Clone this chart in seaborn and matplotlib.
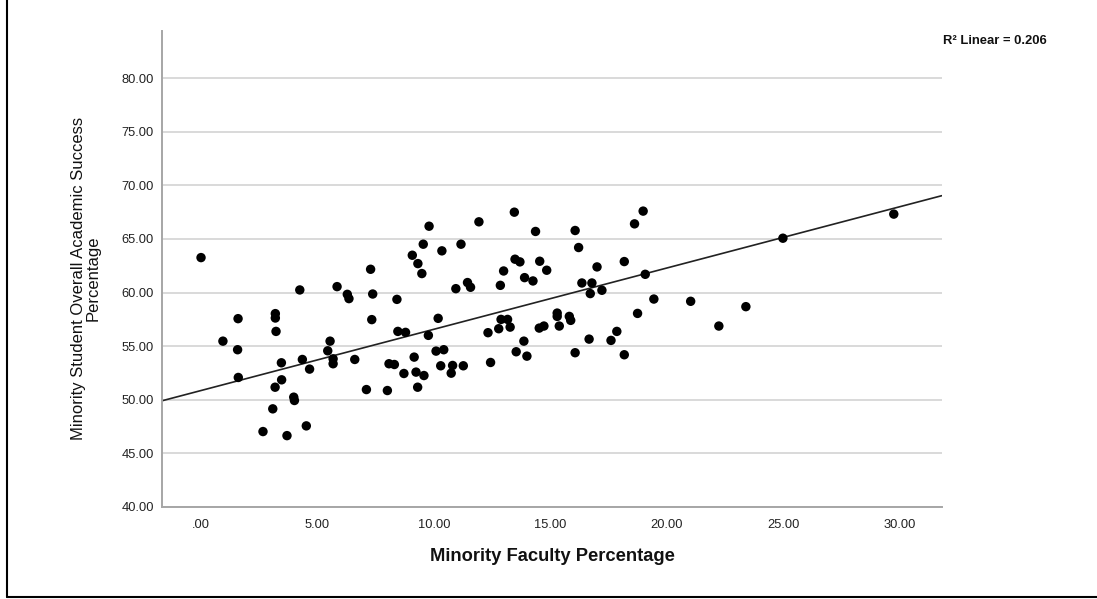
import matplotlib
matplotlib.use("Agg")
import matplotlib.pyplot as plt
from matplotlib.lines import Line2D
from matplotlib.ticker import FuncFormatter
import seaborn as sns
import pandas as pd
import numpy as np

# Data
faculty_pct = [
    0.00, 0.94, 1.59, 1.57, 1.60, 3.19, 3.19, 3.22, 3.45, 3.46,
    3.18, 3.08, 2.66, 3.69, 3.98, 4.01, 4.52, 4.24, 4.35, 4.66,
    5.84, 6.28, 6.35, 5.54, 5.44, 5.67, 5.67, 6.60, 7.28, 7.37,
    7.33, 7.10, 8.00, 8.41, 8.45, 8.78, 8.07, 8.30, 8.71, 9.07,
    9.31, 9.48, 9.15, 9.23, 9.30, 9.79, 9.54, 10.34, 11.16, 11.93,
    13.45, 14.36, 16.06, 16.21, 18.61, 18.98, 10.94, 11.44, 11.57, 12.85,
    12.99, 13.48, 13.69, 13.89, 14.25, 14.54, 14.84, 16.35, 16.78, 16.71,
    17.21, 17.00, 18.17, 19.07, 19.44, 18.74, 10.18, 9.76, 12.32, 12.78,
    12.88, 13.16, 13.27, 14.52, 14.72, 15.29, 15.29, 15.81, 15.87, 15.38,
    13.86, 13.53, 13.99, 16.06, 16.66, 17.60, 17.85, 18.17, 12.43, 10.09,
    10.42, 10.29, 10.80, 10.74, 11.26, 9.57, 21.02, 22.23, 23.39, 24.98,
    29.74,
]
success_pct = [
    63.26, 55.46, 57.56, 54.66, 52.07, 58.03, 57.62, 56.37, 53.44, 51.85,
    51.16, 49.14, 47.02, 46.64, 50.23, 49.92, 47.55, 60.24, 53.75, 52.85,
    60.55, 59.83, 59.43, 55.46, 54.56, 53.81, 53.35, 53.75, 62.17, 59.86,
    57.47, 50.94, 50.85, 59.36, 56.37, 56.28, 53.35, 53.28, 52.44, 63.48,
    62.70, 61.77, 53.97, 52.57, 51.16, 66.19, 64.51, 63.89, 64.51, 66.60,
    67.50, 65.70, 65.79, 64.20, 66.41, 67.60, 60.36, 60.93, 60.49, 60.67,
    62.01, 63.11, 62.86, 61.39, 61.08, 62.92, 62.08, 60.89, 60.89, 59.90,
    60.21, 62.39, 62.89, 61.70, 59.39, 58.05, 57.59, 56.00, 56.25, 56.62,
    57.49, 57.49, 56.77, 56.68, 56.87, 58.08, 57.77, 57.77, 57.40, 56.87,
    55.46, 54.47, 54.06, 54.38, 55.65, 55.53, 56.37, 54.19, 53.47, 54.53,
    54.66, 53.16, 53.19, 52.47, 53.16, 52.25, 59.18, 56.87, 58.68, 65.07,
    67.32,
]
# Linear fit line (R^2 = 0.206)
fit_intercept = 50.85
fit_slope = 0.572

x_ticks = [0, 5, 10, 15, 20, 25, 30]
y_ticks = [40, 45, 50, 55, 60, 65, 70, 75, 80]
x_label = "Minority Faculty Percentage"
y_label = "Minority Student Overall Academic Success\nPercentage"
r2_label = "R\u00b2 Linear = 0.206"

df = pd.DataFrame({"faculty": faculty_pct, "success": success_pct})

sns.set_style("white")
plt.rcParams["font.family"] = ["Liberation Sans", "DejaVu Sans"]

fig = plt.figure(figsize=(10.97, 5.99), dpi=100)
ax = fig.add_axes([0.148, 0.154, 0.7105, 0.794])

xlim = (-1.66, 31.8)
ylim = (40, 84.4)

sns.scatterplot(data=df, x="faculty", y="success", ax=ax, s=46,
                color="black", edgecolor="none", alpha=1, zorder=3)

fit_x = np.array(xlim)
fit_df = pd.DataFrame({"x": fit_x, "y": fit_intercept + fit_slope * fit_x})
sns.lineplot(data=fit_df, x="x", y="y", ax=ax, color="#222222", lw=1.2, zorder=2)

ax.set_xlim(*xlim)
ax.set_ylim(*ylim)
ax.set_xticks(x_ticks)
ax.set_yticks(y_ticks)

def fmt(v, pos):
    s = f"{v:.2f}"
    if s.startswith("0."):
        s = s[1:]
    return s

ax.xaxis.set_major_formatter(FuncFormatter(fmt))
ax.yaxis.set_major_formatter(FuncFormatter(fmt))
ax.tick_params(axis="both", length=0, labelsize=9.3, colors="#222222")
ax.tick_params(axis="x", pad=9)
ax.tick_params(axis="y", pad=6)

ax.yaxis.grid(True, color="#d9d9d9", lw=1.4, zorder=0)
ax.xaxis.grid(False)
ax.set_axisbelow(True)
for side in ["top", "right"]:
    ax.spines[side].set_visible(False)
for side in ["left", "bottom"]:
    ax.spines[side].set_color("#a6a6a6")
    ax.spines[side].set_linewidth(1.4)

ax.set_xlabel(x_label, fontsize=13.2, fontweight="bold", color="#111111", labelpad=12)
ax.set_ylabel(y_label, fontsize=12, color="#111111", labelpad=12, linespacing=0.95)
ax.yaxis.set_label_coords(-0.079, 0.48)

fig.text(943 / 1097, 1 - 41 / 599, r2_label, fontsize=9.4, fontweight="bold",
         ha="left", va="center", color="#111111")

# outer frame (left and bottom edges visible in the reference)
fig.add_artist(Line2D([7 / 1097, 7 / 1097], [1 - 597 / 599, 1.0],
                      transform=fig.transFigure, color="black", lw=1.5))
fig.add_artist(Line2D([7 / 1097, 1.0], [1 - 597 / 599, 1 - 597 / 599],
                      transform=fig.transFigure, color="black", lw=1.5))

fig.savefig("out.png", dpi=100)
